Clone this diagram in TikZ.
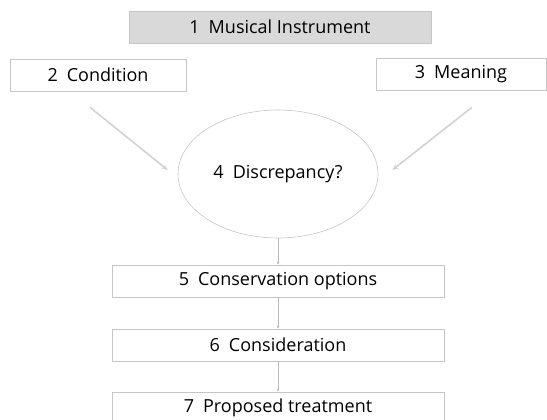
\documentclass[tikz,border=0pt]{standalone}
\usepackage{fontspec}
\setmainfont{Open Sans}
\usetikzlibrary{arrows.meta,shapes.geometric}
\tikzset{
  stagebox/.style={draw=gray!45,line width=0.6pt,fill=white,minimum height=32pt,inner sep=0pt,font=\fontsize{18}{21}\selectfont},
  flowline/.style={draw=gray!55,line width=0.4pt,-{Stealth[length=3pt,width=2.5pt]}},
  feedarrow/.style={draw=gray!35,line width=1.6pt,-{Stealth[length=6pt,width=5pt]}}
}
\begin{document}
\begin{tikzpicture}[x=1pt,y=-1pt]
\useasboundingbox (0,0) rectangle (547,420);
%% top row
\node[stagebox,fill=gray!30,minimum width=302pt] (instr) at (280,27) {1\enspace Musical Instrument};
\node[stagebox,minimum width=176pt] (cond) at (98,75) {2\enspace Condition};
\node[stagebox,minimum width=170pt] (mean) at (461,74) {3\enspace Meaning};
%% discrepancy
\node[ellipse,draw=gray!45,line width=0.6pt,minimum width=200pt,minimum height=128pt,inner sep=0pt,font=\fontsize{18}{21}\selectfont] (discr) at (278,174) {4\enspace Discrepancy?};
\draw[feedarrow] ([shift={(-8,16)}]cond.south) -- ([shift={(-10,-4)}]discr.west);
\draw[feedarrow] ([shift={(11,17)}]mean.south) -- ([shift={(14,-4)}]discr.east);
%% lower stages
\node[stagebox,minimum width=332pt] (opts) at (278,281) {5\enspace Conservation options};
\node[stagebox,minimum width=332pt] (consid) at (278,345) {6\enspace Consideration};
\node[stagebox,minimum width=332pt] (treat) at (278,408) {7\enspace Proposed treatment};
\draw[flowline] (discr.south) -- (opts.north);
\draw[flowline] (opts.south) -- (consid.north);
\draw[flowline] (consid.south) -- (treat.north);
\end{tikzpicture}
\end{document}
